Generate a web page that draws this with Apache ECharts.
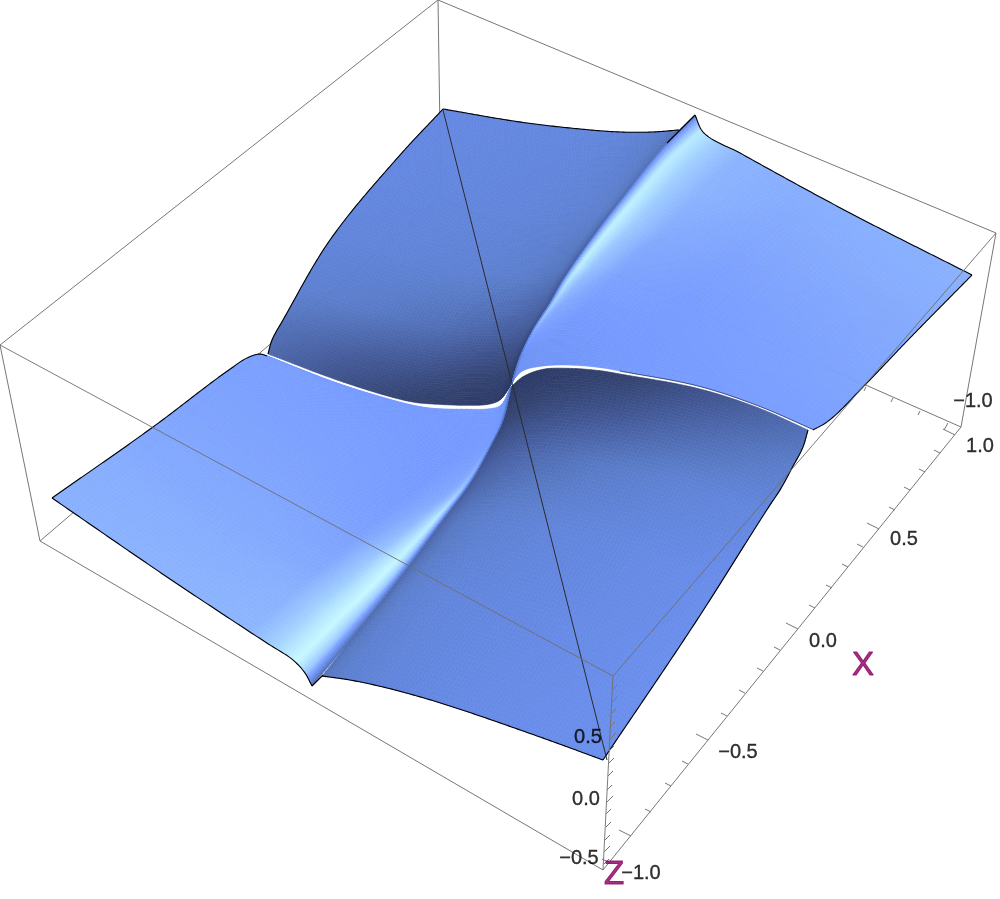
<!DOCTYPE html>
<html><head><meta charset="utf-8">
<style>html,body{margin:0;padding:0;background:#fff}#c{width:1000px;height:899px}</style>
<script src="https://cdn.jsdelivr.net/npm/echarts@6/dist/echarts.min.js"></script>
</head><body><div id="c"></div>
<script>
// ---- values (projected plane, in picture units) ----
const backEdges = [[40,541,441,198],[961,427,441,198],[438,0,441,198]];
const rearEdges = [[0,345,438,0],[438,0,996,233],[0,345,40,541],[996,233,961,427],[40,541,603,870],[603,870,961,427]];
const frontEdges = [[0,345,613,676],[613,676,996,233],[613,676,603,870]];
const meshLine = [443,110,607,760];
const xTicks = [[608,862,0],[631,836,1],[651,812,0],[671,786,0],[688,764,0],[708,740,1],[727,716,0],[745,693,0],[763,671,0],[780,650,0],[798,629,1],[815,608,0],[832,588,0],[848,567,0],[863,547,0],[879,529,1],[895,510,0],[910,490,0],[925,472,0],[940,453,0],[955,435,1]];
const yTicks = [[948,423,1],[920,411,0],[893,398,0],[866,387,0]];
const zTicks = [[612,690,0],[612,702,0],[611,714,0],[610,727,0],[610,739,1],[609,751,0],[609,763,0],[608,776,0],[607,790,0],[607,802,1],[606,814,0],[606,827,0],[605,840,0],[604,852,1],[604,864,0]];
const tickLabels = [["\u22121.0",641,873],["\u22120.5",738,752],["0.0",823,641],["0.5",904,539],["1.0",980,446],["\u22121.0",973,401],["0.5",588,737],["0.0",586,799],["\u22120.5",579,858]];
const axisNames = [["X",863,666],["Z",614,875]];

const ridgeUp = [[511,385],[520,357],[533,330],[550,303],[563,280],[600,227],[627,192],[663,147],[679,130]];
const ridgeUpLight = [[511,385],[520,357],[533,330],[550,303],[563,280],[600,227],[627,192],[663,147],[695,115]];
const ridgeDown = [[511,387],[503,420],[490,447],[472,480],[443,520],[410,565],[383,600],[353,637],[322,676]];
const ridgeDownLight = [[511,387],[503,420],[490,447],[472,480],[443,520],[410,565],[383,600],[353,637],[312,686]];
const gapLeftUpper = [[511,385],[500,400],[490,404],[467,405.3],[433,404],[417,402.7],[400,399.3],[340,381],[268,354]];
const gapLeftLower = [[511,387],[500,406],[490,408.7],[467,409.3],[433,408.3],[417,406],[400,402],[340,384],[267,356]];
const gapRightUpper = [[511,385],[515,378],[523,370.7],[543,366],[567,365],[600,367.5],[620,371],[700,386.5],[760,406.5],[813,429.5]];
const gapRightLower = [[511,387],[523,376.7],[543,369.3],[567,368.3],[600,370.7],[620,374],[700,389],[760,408.5],[808,430]];
const edgeLeftFar = [[267,356],[260,354],[247,358],[233,367],[153,427],[52,498]];
const edgeLeftLow = [[312,686],[305,673],[293,660],[270,645],[250,632],[170,579],[52,498]];
const edgeRightFar = [[813,430],[827,422],[863,387],[908,340],[972,275]];
const edgeRightTop = [[695,115],[703,132],[740,153],[850,213],[972,275]];
const edgeTopLeft = [[268,354],[272,340],[283,320],[330,240],[400,155],[443,109]];
const edgeTopRight = [[679,130],[653,132],[620,132],[570,128],[520,122],[443,109]];
const edgeLowRight = [[808,430],[803,447],[792,468],[780,490],[770,505],[697,620],[603,760]];
const edgeLowLeft = [[322,676],[350,680],[383,687],[417,696],[450,706],[540,737],[603,760]];
const tipLines = [[[667,143],[695,115]],[[312,686],[323,675]]];

// shading: value 0 (deep shadow) … 1 (highlight), rows run along the ridge, columns across
const shadeRamp = ['#27335f','#324270','#3f5490','#4c67ac','#587ac6','#6387e0','#7499ff','#82a8fe','#97c3ff','#b0e2ff','#c8f8ff'];
const lightRows = [0,.08,.2,.4,.6,.8,1];
const leftKnots = [
 [0,.002,.006,.012,.03,.08,.4,1],[0,.004,.012,.024,.056,.12,.44,1],[0,.008,.02,.04,.085,.17,.5,1],
 [0,.011,.03,.06,.12,.22,.54,1],[0,.014,.036,.08,.15,.25,.5,1],[0,.016,.042,.09,.165,.26,.47,1],[0,.016,.042,.09,.165,.26,.47,1]];
const leftShades = [
 [.2,.35,.5,.57,.6,.6,.6,.63],[.25,.4,.5,.58,.6,.6,.61,.64],[.3,.48,.62,.72,.64,.6,.63,.65],
 [.3,.5,.76,.94,.74,.62,.66,.67],[.3,.5,.8,1,.82,.67,.69,.7],[.3,.5,.8,1,.85,.73,.72,.72],[.3,.5,.8,1,.86,.75,.74,.73]];
const rightKnots = [
 [0,.002,.006,.012,.03,.08,.4,1],[0,.003,.008,.018,.04,.1,.4,1],[0,.005,.015,.03,.065,.14,.4,1],
 [0,.008,.022,.045,.09,.18,.4,1],[0,.01,.025,.05,.105,.2,.42,1],[0,.01,.025,.05,.105,.2,.42,1],[0,.01,.025,.05,.105,.2,.42,1]];
const rightShades = [
 [.2,.35,.5,.55,.56,.57,.6,.63],[.25,.42,.52,.56,.57,.58,.6,.64],[.3,.5,.68,.8,.68,.6,.61,.66],
 [.3,.55,.76,.96,.8,.66,.62,.68],[.33,.58,.78,.97,.83,.71,.66,.7],[.35,.58,.78,.95,.84,.74,.7,.72],[.35,.58,.76,.93,.84,.74,.72,.73]];
const darkRows = [0,.1,.25,.45,.7,1];
const darkKnots = [0,.03,.08,.2,.4,.7,1];
const upperShades = [
 [.03,.03,.03,.05,.08,.17,.3],[.12,.1,.1,.12,.17,.25,.35],[.2,.2,.22,.27,.33,.4,.45],
 [.25,.3,.36,.42,.45,.47,.48],[.3,.38,.43,.46,.48,.49,.5],[.35,.38,.42,.47,.49,.5,.5]];
const lowerShades = [
 [.03,.03,.03,.05,.09,.2,.33],[.12,.1,.1,.14,.2,.31,.42],[.22,.22,.25,.31,.39,.46,.5],
 [.27,.31,.38,.44,.48,.51,.53],[.3,.38,.44,.48,.5,.52,.54],[.35,.4,.44,.48,.51,.53,.54]];

// ---- patches: each is bounded by four read-off curves ----
const patches = [
 {c0:ridgeUp,c1:edgeTopLeft,d0:gapLeftUpper,d1:edgeTopRight,rows:darkRows,knots:darkRows.map(()=>darkKnots),shades:upperShades,outline:[edgeTopLeft,edgeTopRight]},
 {c0:ridgeDown,c1:edgeLowRight,d0:gapRightLower,d1:edgeLowLeft,rows:darkRows,knots:darkRows.map(()=>darkKnots),shades:lowerShades,outline:[edgeLowRight,edgeLowLeft]},
 {c0:ridgeUpLight,c1:edgeRightFar,d0:gapRightUpper,d1:edgeRightTop,rows:lightRows,knots:rightKnots,shades:rightShades,outline:[edgeRightFar,edgeRightTop],thin:gapRightUpper.slice(6)},
 {c0:ridgeDownLight,c1:edgeLeftFar,d0:gapLeftLower,d1:edgeLeftLow,rows:lightRows,knots:leftKnots,shades:leftShades,outline:[edgeLeftFar,edgeLeftLow]}
];

function sampler(pts){
  const L=[0]; for(let i=1;i<pts.length;i++)L.push(L[i-1]+Math.hypot(pts[i][0]-pts[i-1][0],pts[i][1]-pts[i-1][1]));
  const T=L[L.length-1], n=pts.length;
  return function(u){
    const d=Math.min(Math.max(u,0),1)*T; let i=0; while(i<n-2&&L[i+1]<d)i++;
    const h=(L[i+1]-L[i])||1, f=(d-L[i])/h;
    const p0=pts[i],p1=pts[i+1],pm=pts[Math.max(i-1,0)],pp=pts[Math.min(i+2,n-1)];
    const hm=i>0?L[i]-L[i-1]:h, hp=i<n-2?L[i+2]-L[i+1]:h;
    const out=[];
    for(let k=0;k<2;k++){
      const s=(p1[k]-p0[k])/h;
      const m0=i>0?((p0[k]-pm[k])/hm+s)/2:s, m1=i<n-2?(s+(pp[k]-p1[k])/hp)/2:s;
      const f2=f*f,f3=f2*f;
      out.push((2*f3-3*f2+1)*p0[k]+(f3-2*f2+f)*h*m0+(-2*f3+3*f2)*p1[k]+(f3-f2)*h*m1);
    }
    return out;
  };
}
function renderPatch(params,api){
  const P=patches[params.dataIndex];
  const c0=sampler(P.c0),c1=sampler(P.c1),d0=sampler(P.d0),d1=sampler(P.d1);
  const p00=c0(0),p10=c0(1),p01=c1(0),p11=c1(1);
  const at=(s,t)=>{const a=c0(s),b=c1(s),c=d0(t),d=d1(t);
    return [0,1].map(k=>(1-t)*a[k]+t*b[k]+(1-s)*c[k]+s*d[k]-((1-s)*(1-t)*p00[k]+s*(1-t)*p10[k]+(1-s)*t*p01[k]+s*t*p11[k]));};
  const rowAt=(s)=>{let i=0;const R=P.rows;while(i<R.length-2&&R[i+1]<s)i++;const f=(s-R[i])/(R[i+1]-R[i]);
    return {k:P.knots[i].map((v,j)=>v+(P.knots[i+1][j]-v)*f),v:P.shades[i].map((v,j)=>v+(P.shades[i+1][j]-v)*f)};};
  const NS=90,children=[];
  const refK=P.knots[P.knots.length-1], subs=refK.slice(1).map((k,j)=>Math.ceil((k-refK[j])*70)+2);
  let prev=null;
  for(let a=0;a<=NS;a++){
    const s=Math.pow(a/NS,1.25),r=rowAt(s),col=[];
    for(let j=0;j<r.k.length-1;j++){const SUB=subs[j];for(let q=0;q<SUB+(j==r.k.length-2?1:0);q++){
      const f=q/SUB,t=r.k[j]+(r.k[j+1]-r.k[j])*f,v=r.v[j]+(r.v[j+1]-r.v[j])*f;
      col.push({p:api.coord(at(s,t)),v});
    }}
    if(prev)for(let b=0;b<col.length-1;b++){
      const fill=echarts.color.lerp((prev[b].v+col[b].v+prev[b+1].v+col[b+1].v)/4,shadeRamp);
      children.push({type:'polygon',silent:true,shape:{points:[prev[b].p,col[b].p,col[b+1].p,prev[b+1].p]},style:{fill,stroke:fill,lineWidth:.6}});
    }
    prev=col;
  }
  const stroke=(o,color,w)=>{const g=sampler(o),pts=[];for(let i=0;i<=120;i++)pts.push(api.coord(g(i/120)));
    children.push({type:'polyline',silent:true,shape:{points:pts},style:{fill:null,stroke:color,lineWidth:w}});};
  P.outline.forEach(o=>stroke(o,'#000',1.1));
  if(P.thin)stroke(P.thin,'#1c2748',.7);
  return {type:'group',children};
}
const segRender=(color,width)=>(params,api)=>{
  const a=api.coord([api.value(0),api.value(1)]),b=api.coord([api.value(2),api.value(3)]);
  return {type:'line',silent:true,shape:{x1:a[0],y1:a[1],x2:b[0],y2:b[1]},style:{stroke:color,lineWidth:width}};
};
const segSeries=(data,color,width,z)=>({type:'custom',coordinateSystem:'cartesian2d',clip:false,z,silent:true,animation:false,
  renderItem:segRender(color,width),encode:{x:[0,2],y:[1,3]},data});
const tickSegs=(list,major,minor)=>list.map(t=>{const o=t[2]?major:minor;return [t[0],t[1],t[0]+o[0],t[1]+o[1]];});
const labelSeries=(list,size,color,z,border)=>({type:'scatter',coordinateSystem:'cartesian2d',symbolSize:0,silent:true,animation:false,z,
  data:list.map(l=>({value:[l[1],l[2]],name:l[0]})),
  label:{show:true,position:'inside',formatter:p=>p.name,fontFamily:'"Liberation Sans",Arial,sans-serif',fontSize:size,color,textBorderColor:color,textBorderWidth:border}});

const chart=echarts.init(document.getElementById('c'),null,{renderer:'canvas'});
chart.setOption({
  animation:false,backgroundColor:'#fff',
  grid:{left:0,right:0,top:0,bottom:0},
  xAxis:{type:'value',min:0,max:1000,show:false},
  yAxis:{type:'value',min:0,max:899,inverse:true,show:false},
  series:[
    segSeries(backEdges,'#777',1,1),
    segSeries(rearEdges,'#777',1,2),
    segSeries(tickSegs(xTicks,[-12,-6],[-6,-3]),'#777',1,2),
    segSeries(tickSegs(yTicks,[-4,7],[-2,4]),'#777',1,2),
    {type:'custom',coordinateSystem:'cartesian2d',clip:false,z:3,silent:true,animation:false,renderItem:renderPatch,data:patches.map((p,i)=>[i,0])},
    segSeries([meshLine],'#2b2b2b',1,4),
    segSeries(tipLines.map(t=>[t[0][0],t[0][1],t[1][0],t[1][1]]),'#000',1.2,4),
    segSeries(frontEdges,'rgba(110,110,110,.9)',1,5),
    segSeries(tickSegs(zTicks,[6,-6],[5,-5]),'#777',1,5),
    labelSeries(tickLabels,20,'#000',6,.35),
    labelSeries(axisNames,33,'#8c0060',7,1)
  ]
});
</script></body></html>
